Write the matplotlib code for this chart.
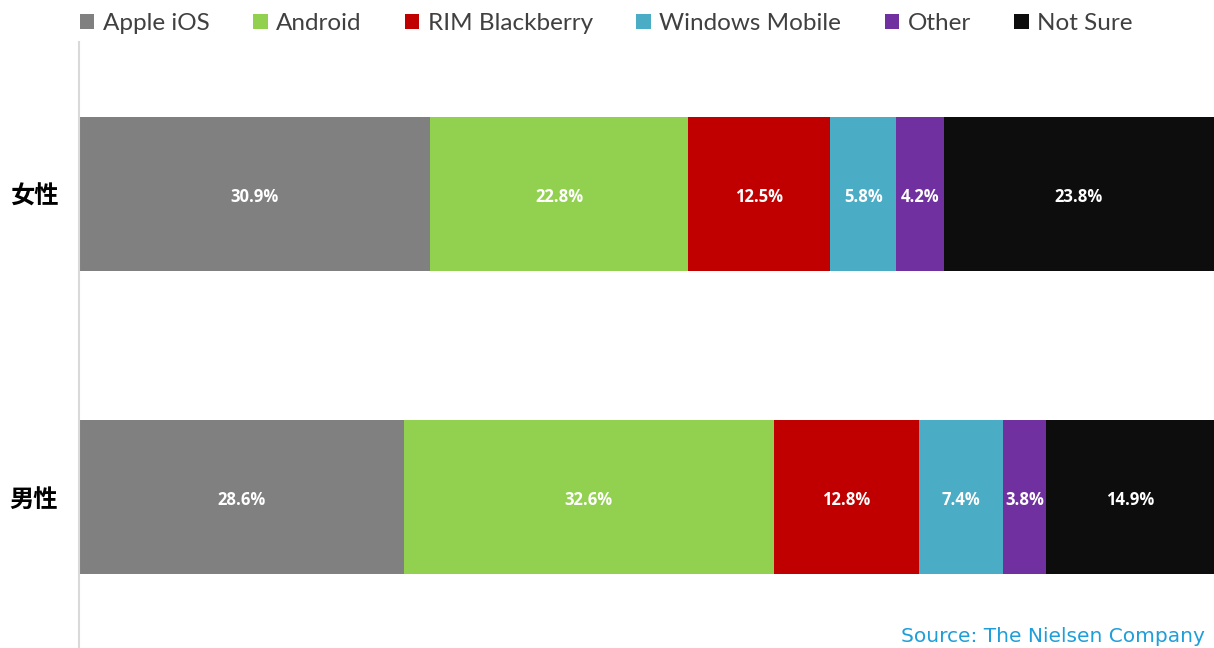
import matplotlib
matplotlib.use("Agg")
import matplotlib.pyplot as plt
from matplotlib.patches import Patch
import numpy as np

categories = ["男性", "女性"]
series = ["Apple iOS", "Android", "RIM Blackberry", "Windows Mobile", "Other", "Not Sure"]
values = {
    "Apple iOS":      [28.6, 30.9],
    "Android":        [32.6, 22.8],
    "RIM Blackberry": [12.8, 12.5],
    "Windows Mobile": [7.4, 5.8],
    "Other":          [3.8, 4.2],
    "Not Sure":       [14.9, 23.8],
}
colors = ["#808080", "#92d050", "#c00000", "#4bacc6", "#7030a0", "#0d0d0d"]
source_text = "Source: The Nielsen Company"

W, H = 1214, 648
fig = plt.figure(figsize=(W / 100, H / 100), dpi=100)
ax = fig.add_axes([79 / W, 0, 1 - 79 / W, (H - 42) / H])

y = np.arange(len(categories))
left = np.zeros(len(categories))
for s, c in zip(series, colors):
    v = np.array(values[s])
    ax.barh(y, v, left=left, height=0.507, color=c, edgecolor="none")
    for yi, (l, vi) in enumerate(zip(left, v)):
        ax.text(l + vi / 2, yi - 0.01, f"{vi:.1f}%", ha="center", va="center",
                color="white", fontsize=12, fontweight="bold", family="Open Sans")
    left += v

ax.set_xlim(0, 100)
ax.set_ylim(-0.497, 1.50)
ax.set_yticks(y)
ax.set_yticklabels(categories, family=["Noto Sans CJK SC", "DejaVu Sans"],
                   fontsize=17.5, fontweight="bold", color="black")
ax.tick_params(axis="y", length=0, pad=15)
ax.set_xticks([])
for sp in ["top", "right", "bottom"]:
    ax.spines[sp].set_visible(False)
ax.spines["left"].set_color("#d9d9d9")
ax.spines["left"].set_linewidth(1.5)

handles = [Patch(facecolor=c, edgecolor="none") for c in colors]
leg = fig.legend(handles, series, loc="upper left", bbox_to_anchor=(58 / W, 1.014),
                 ncol=6, frameon=False, handlelength=0.6, handleheight=0.6,
                 handletextpad=0.35, columnspacing=1.78,
                 prop={"family": "Lato", "size": 17.5})
for t in leg.get_texts():
    t.set_color("#404040")

fig.text(1205 / W, 1 - 636 / H, source_text, ha="right", va="center",
         color="#1f9ed9", fontsize=14.5, family="DejaVu Sans")

fig.savefig("out.png", dpi=100)
